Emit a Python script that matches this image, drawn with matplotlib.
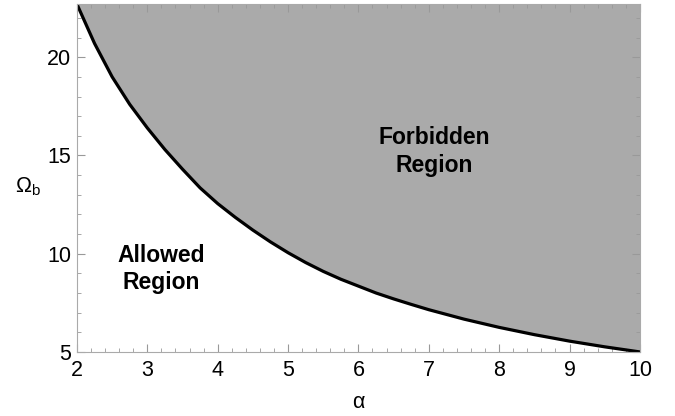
import matplotlib.pyplot as plt
from matplotlib.ticker import MultipleLocator

# boundary curve
alpha = [2.0, 2.25, 2.5, 2.75, 3.0, 3.25, 3.5, 3.75, 4.0, 4.25, 4.5, 4.75,
         5.0, 5.25, 5.5, 5.75, 6.0, 6.25, 6.5, 6.75, 7.0, 7.5, 8.0, 8.5,
         9.0, 9.5, 10.0]
omega_b = [22.7, 20.7, 19.0, 17.6, 16.4, 15.3, 14.3, 13.35, 12.55, 11.85, 11.2, 10.6,
           10.05, 9.55, 9.1, 8.7, 8.35, 8.0, 7.7, 7.42, 7.15, 6.67, 6.25, 5.88,
           5.55, 5.26, 5.0]
x_ticks = [2, 3, 4, 5, 6, 7, 8, 9, 10]
y_ticks = [5, 10, 15, 20]
y_top = 22.7

plt.rcParams["font.family"] = ["Liberation Sans", "DejaVu Sans"]

fig = plt.figure(figsize=(6.75, 4.16), dpi=100)
ax = fig.add_axes([0.114, 0.154, 0.834, 0.836])

ax.fill_between(alpha, omega_b, y_top, color="#aaaaaa", linewidth=0)
ax.plot(alpha, omega_b, color="black", linewidth=2.3, solid_joinstyle="round")

ax.set_xlim(2, 10)
ax.set_ylim(5, y_top)
ax.set_xticks(x_ticks)
ax.set_yticks(y_ticks)
ax.xaxis.set_minor_locator(MultipleLocator(0.2))
ax.yaxis.set_minor_locator(MultipleLocator(1))
ax.tick_params(which="both", direction="in", top=True, right=True,
               color="#999999", labelsize=15.5, pad=4)
ax.tick_params(axis="x", which="major", pad=6)
ax.tick_params(which="major", length=6, width=0.8)
ax.tick_params(which="minor", length=3, width=0.6)
for s in ax.spines.values():
    s.set_color("#aaaaaa")
    s.set_linewidth(0.8)

ax.set_xlabel("α", fontsize=15.5, labelpad=8)
ax.set_ylabel(r"$\mathregular{\Omega_b}$", fontsize=15.5, rotation=0, va="center")
ax.yaxis.set_label_coords(-0.087, 0.475)

ax.text(7.08, 15.2, "Forbidden\nRegion", fontsize=16.5, fontweight="bold",
        ha="center", va="center", linespacing=1.25)
ax.text(3.19, 9.22, "Allowed\nRegion", fontsize=16.5, fontweight="bold",
        ha="center", va="center", linespacing=1.25)

fig.savefig("out.png", dpi=100)
